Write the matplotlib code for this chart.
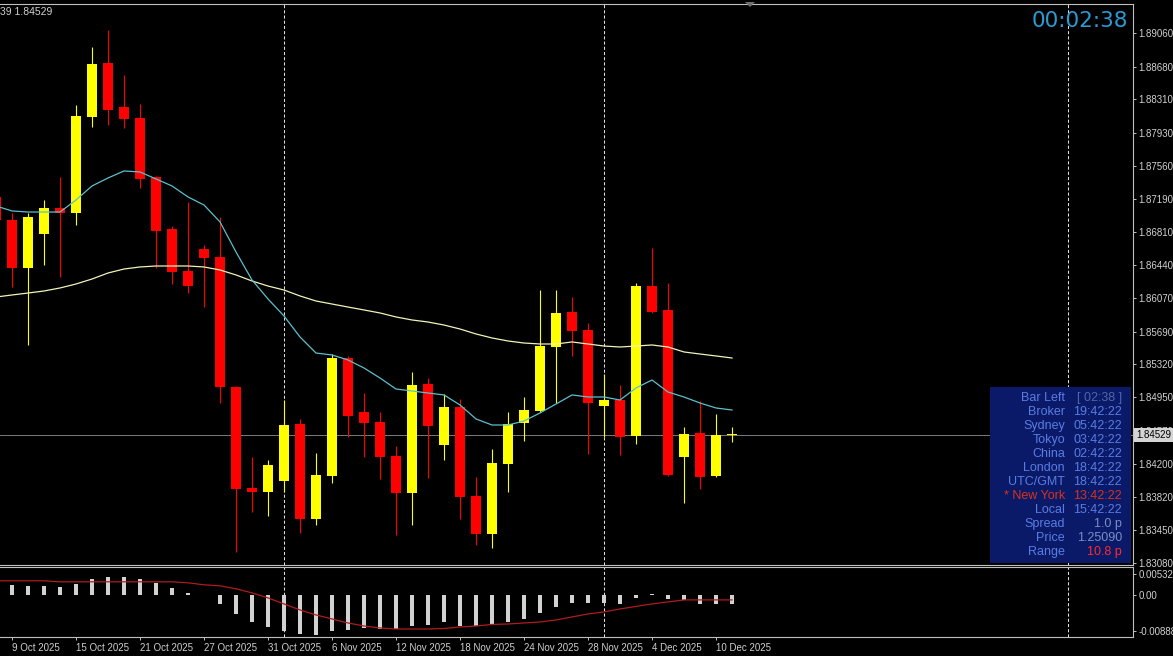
import matplotlib
matplotlib.use("Agg")
import matplotlib.pyplot as plt
from matplotlib.patches import Rectangle, Polygon

plt.rcParams['font.family'] = ['Liberation Sans', 'DejaVu Sans']

# ---------------- data ----------------
bar_index = list(range(-1, 46))
opens = [1.87210, 1.86950, 1.86409, 1.86792, 1.87086, 1.87029, 1.88112, 1.88722, 1.88225, 1.88101,
         1.87435, 1.86849, 1.86375, 1.86623, 1.86533, 1.85066, 1.83926, 1.83881, 1.84005, 1.84648,
         1.83577, 1.84062, 1.85393, 1.84784, 1.84671, 1.84287, 1.83870, 1.85100, 1.84411, 1.84840,
         1.83836, 1.83407, 1.84197, 1.84660, 1.84795, 1.85517, 1.85912, 1.85709, 1.84851, 1.84919,
         1.84513, 1.86205, 1.85935, 1.84276, 1.84547, 1.84062, 1.84524]
highs = [1.87266, 1.87029, 1.87029, 1.87176, 1.87435, 1.88248, 1.88902, 1.89094, 1.88586, 1.88259,
         1.87447, 1.86882, 1.87153, 1.86668, 1.86984, 1.85077, 1.84276, 1.84242, 1.84919, 1.84705,
         1.84321, 1.85438, 1.85416, 1.84998, 1.84784, 1.84400, 1.85235, 1.85167, 1.84987, 1.84930,
         1.84050, 1.84366, 1.84784, 1.84953, 1.86160, 1.86160, 1.86081, 1.85788, 1.85213, 1.85088,
         1.86239, 1.86634, 1.86239, 1.84615, 1.84908, 1.84761, 1.84615]
lows = [1.86894, 1.86194, 1.85540, 1.86442, 1.86307, 1.86894, 1.87999, 1.88022, 1.87988, 1.87311,
        1.86409, 1.86228, 1.86126, 1.85968, 1.84885, 1.83204, 1.83655, 1.83610, 1.83881, 1.83419,
        1.83509, 1.83983, 1.84502, 1.84276, 1.84028, 1.83396, 1.83509, 1.84039, 1.84242, 1.83577,
        1.83283, 1.83249, 1.83881, 1.84456, 1.84784, 1.84885, 1.85416, 1.84310, 1.84502, 1.84299,
        1.84423, 1.85901, 1.84062, 1.83757, 1.83915, 1.84050, 1.84445]
closes = [1.86950, 1.86409, 1.86984, 1.87086, 1.87029, 1.88124, 1.88710, 1.88191, 1.88090, 1.87413,
          1.86826, 1.86363, 1.86205, 1.86521, 1.85066, 1.83915, 1.83881, 1.84186, 1.84637, 1.83577,
          1.84073, 1.85393, 1.84739, 1.84660, 1.84276, 1.83870, 1.85088, 1.84626, 1.84840, 1.83825,
          1.83407, 1.84208, 1.84648, 1.84806, 1.85528, 1.85901, 1.85698, 1.84885, 1.84919, 1.84502,
          1.86205, 1.85912, 1.84073, 1.84536, 1.84050, 1.84524, 1.84529]
ma_fast = [1.87108, 1.87052, 1.87040, 1.87040, 1.87040, 1.87176, 1.87334, 1.87424, 1.87503, 1.87492,
           1.87413, 1.87334, 1.87210, 1.87119, 1.86928, 1.86589, 1.86273, 1.86059, 1.85867, 1.85630,
           1.85449, 1.85427, 1.85371, 1.85280, 1.85167, 1.85043, 1.85021, 1.84998, 1.84976, 1.84863,
           1.84705, 1.84637, 1.84637, 1.84682, 1.84773, 1.84874, 1.84976, 1.84953, 1.84953, 1.84919,
           1.85055, 1.85145, 1.85009, 1.84953, 1.84885, 1.84829, 1.84806]
ma_slow = [1.86081, 1.86104, 1.86126, 1.86149, 1.86183, 1.86228, 1.86284, 1.86352, 1.86397, 1.86420,
           1.86431, 1.86431, 1.86431, 1.86420, 1.86386, 1.86330, 1.86262, 1.86205, 1.86160, 1.86093,
           1.86036, 1.86002, 1.85968, 1.85935, 1.85901, 1.85856, 1.85822, 1.85799, 1.85765, 1.85720,
           1.85664, 1.85619, 1.85585, 1.85562, 1.85551, 1.85551, 1.85574, 1.85551, 1.85528, 1.85517,
           1.85528, 1.85540, 1.85517, 1.85461, 1.85438, 1.85416, 1.85393]
macd_hist = [0.00263, 0.00263, 0.00238, 0.00238, 0.00213, 0.00288, 0.00413, 0.00463, 0.00463, 0.00413,
             0.00313, 0.00188, 0.00063, 0.00015, -0.00213, -0.00463, -0.00663, -0.00788, -0.00888, -0.00963,
             -0.00988, -0.00888, -0.00863, -0.00813, -0.00838, -0.00838, -0.00763, -0.00738, -0.00663, -0.00763,
             -0.00763, -0.00738, -0.00663, -0.00588, -0.00438, -0.00288, -0.00188, -0.00188, -0.00188, -0.00213,
             -0.00063, 0.00025, -0.00088, -0.00113, -0.00213, -0.00213, -0.00225]
macd_signal = [0.00363, 0.00363, 0.00363, 0.00363, 0.00338, 0.00338, 0.00338, 0.00338, 0.00338, 0.00338,
               0.00338, 0.00338, 0.00313, 0.00263, 0.00238, 0.00163, 0.00063, -0.00063, -0.00213, -0.00363,
               -0.00488, -0.00588, -0.00688, -0.00763, -0.00813, -0.00838, -0.00838, -0.00838, -0.00825, -0.00788,
               -0.00763, -0.00725, -0.00713, -0.00688, -0.00663, -0.00613, -0.00538, -0.00463, -0.00413, -0.00338,
               -0.00275, -0.00213, -0.00163, -0.00113, -0.00113, -0.00113, -0.00113]
current_price = 1.84529
price_ticks = [1.89060, 1.88680, 1.88310, 1.87930, 1.87560, 1.87190, 1.86810, 1.86440, 1.86070,
               1.85690, 1.85320, 1.84950, 1.84570, 1.84200, 1.83820, 1.83450, 1.83080]
date_tick_bars = [0, 4, 8, 12, 16, 20, 24, 28, 32, 36, 40, 44]
date_tick_labels = ['9 Oct 2025', '15 Oct 2025', '21 Oct 2025', '27 Oct 2025', '31 Oct 2025',
                    '6 Nov 2025', '12 Nov 2025', '18 Nov 2025', '24 Nov 2025', '28 Nov 2025',
                    '4 Dec 2025', '10 Dec 2025']
separator_bars = [17, 37, 66]
macd_ticks = [0.005325, 0.0, -0.00888]
macd_tick_labels = ['0.005325', '0.00', '-0.00888']
panel_labels = ['Bar Left', 'Broker', 'Sydney', 'Tokyo', 'China', 'London', 'UTC/GMT',
                '* New York', 'Local', 'Spread', 'Price', 'Range']
panel_values = ['[ 02:38 ]', '19:42:22', '05:42:22', '03:42:22', '02:42:22', '18:42:22',
                '18:42:22', '13:42:22', '15:42:22', '1.0 p', '1.25090', '10.8 p']
timer_text = '00:02:38'

# ---------------- layout ----------------
W, H = 1173, 656
fig = plt.figure(figsize=(W / 100, H / 100), dpi=100, facecolor='black')


def fx(px):
    return px / W


def fy(py):
    return 1 - py / H


GRID = '#c0c0c0'
TXT = '#d0d0d0'

ax = fig.add_axes([0, fy(565), 1133 / W, (565 - 4) / H])
axm = fig.add_axes([0, fy(637), 1133 / W, (637 - 567) / H])
for a in (ax, axm):
    a.set_facecolor('black')
    a.spines['left'].set_visible(False)
    for s in ('top', 'right', 'bottom'):
        a.spines[s].set_color(GRID)
        a.spines[s].set_linewidth(0.8)
    a.set_xlim(-0.75, 70.06)

# price scale: pixel-derived limits
ax.set_ylim(1.830574, 1.89387)

# candles
bull_c, bear_c = '#ffff00', '#ff0000'
for i, o, h, l, c in zip(bar_index, opens, highs, lows, closes):
    col = bull_c if c >= o else bear_c
    ax.vlines(i, l, h, color=col, lw=0.8, zorder=3)
    ax.bar(i, max(abs(c - o), 0.00012), bottom=min(o, c), width=0.68, color=col,
           linewidth=0, zorder=4)

ax.plot(bar_index, ma_slow, color='#f2f2b8', lw=0.9, zorder=5)
ax.plot(bar_index, ma_fast, color='#5cc0cc', lw=0.9, zorder=5)
ax.axhline(current_price, color='#7a7a7a', lw=0.7, zorder=2)

for b in separator_bars:
    for a in (ax, axm):
        a.axvline(b, color='#e0e0e0', lw=0.75, ls=(0, (3, 2)), zorder=1)

ax.yaxis.tick_right()
ax.set_yticks(price_ticks)
ax.set_yticklabels([f'{p:.5f}' for p in price_ticks])
ax.tick_params(axis='y', direction='out', length=2.5, width=0.7, colors=GRID,
               labelcolor=TXT, labelsize=7, pad=1.5)
ax.set_xticks([])

# indicator panel
axm.set_ylim(-0.010375, 0.007069)
axm.bar(bar_index, macd_hist, width=0.2, color='#d2d2d2', linewidth=0, zorder=3)
axm.plot(bar_index, macd_signal, color='#b01c1c', lw=0.9, zorder=4)
axm.yaxis.tick_right()
axm.set_yticks(macd_ticks)
axm.set_yticklabels(macd_tick_labels)
axm.tick_params(axis='y', direction='out', length=2.5, width=0.7, colors=GRID,
                labelcolor=TXT, labelsize=7, pad=1.5)
axm.set_xticks(date_tick_bars)
axm.set_xticklabels(date_tick_labels)
axm.tick_params(axis='x', direction='out', length=2.5, width=0.7, colors=GRID,
                labelcolor=TXT, labelsize=7, pad=1.5)
for t in axm.get_xticklabels():
    t.set_ha('left')

# current price tag
fig.text(fx(1136), fy(435), f'{current_price:.5f}', ha='left', va='center', fontsize=7,
         color='black', zorder=20,
         bbox=dict(boxstyle='square,pad=0.2', fc='#d4d4d4', ec='none'))

# top-left OHLC fragment
fig.text(fx(0), fy(12), '39 1.84529', ha='left', va='center', fontsize=7.5, color=TXT)

# timer
fig.text(fx(1128), fy(21), timer_text, ha='right', va='center', fontsize=15.5,
         color='#2b9bd6', family='DejaVu Sans')

# chart shift marker
fig.add_artist(Polygon([(fx(745), fy(2)), (fx(755), fy(2)), (fx(750), fy(7))],
                       closed=True, transform=fig.transFigure, fc='#707070', ec='none'))

# info panel
fig.add_artist(Rectangle((fx(990), fy(563)), fx(1131) - fx(990), fy(387) - fy(563),
                         transform=fig.transFigure, fc='#0a1a68', ec='none', zorder=10))
lab_col = '#5a7ce2'
for k, (lab, val) in enumerate(zip(panel_labels, panel_values)):
    y = 398 + k * 14.0
    lc = lab_col
    vc = lab_col
    if lab.startswith('*'):
        lc = vc = '#d8321e'
    if lab == 'Bar Left':
        vc = '#5066a8'
    if lab in ('Spread', 'Price'):
        vc = '#7d8cc4'
    if lab == 'Range':
        vc = '#ff2a2a'
    fig.text(fx(1065), fy(y), lab, ha='right', va='center', fontsize=9, color=lc, zorder=11)
    fig.text(fx(1122), fy(y), val, ha='right', va='center', fontsize=9, color=vc, zorder=11)

fig.savefig('out.png', dpi=100, facecolor='black')
